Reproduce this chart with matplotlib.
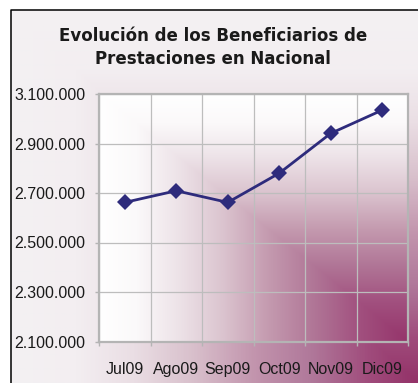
import numpy as np
import matplotlib
matplotlib.use("Agg")
import matplotlib.pyplot as plt
from matplotlib.colors import LinearSegmentedColormap
from matplotlib.lines import Line2D
from matplotlib.ticker import FixedLocator, FuncFormatter

# --- data -------------------------------------------------------------
months = ["Jul09", "Ago09", "Sep09", "Oct09", "Nov09", "Dic09"]
beneficiarios = [2662000, 2709000, 2662000, 2780000, 2941000, 3035000]
y_ticks = [2100000, 2300000, 2500000, 2700000, 2900000, 3100000]
title = "Evolución de los Beneficiarios de\nPrestaciones en Nacional"

W, H, DPI = 418, 383, 100
fig = plt.figure(figsize=(W / DPI, H / DPI), dpi=DPI, facecolor="white")


def corner_gradient(stops, n=400):
    """Rectangular gradient fading out from the lower-right corner."""
    cmap = LinearSegmentedColormap.from_list("g", stops)
    u = np.linspace(0, 1, n)
    xx, yy = np.meshgrid(u, u)          # row 0 is the top of the image
    d = np.maximum(1 - xx, 1 - yy)      # distance from bottom-right corner
    return cmap(d)


# chart area background with its frame (left and top edges visible)
x0, ytop = 11 / W, 1 - 10 / H
bg = fig.add_axes([x0, 0, 1 - x0, ytop], zorder=0)
bg.axis("off")
fig_stops = [(0.0, "#933268"), (0.12, "#a04c7c"), (0.26, "#b0789a"),
             (0.40, "#c294ad"), (0.55, "#d8bfcb"), (0.70, "#eadee4"),
             (0.84, "#f3eef1"), (1.0, "#f3f1f3")]
bg.imshow(corner_gradient(fig_stops), extent=[0, 1, 0, 1], aspect="auto",
          interpolation="bilinear")
bg.set_xlim(0, 1)
bg.set_ylim(0, 1)
fig.add_artist(Line2D([x0, x0, 1.0], [0, ytop, ytop], transform=fig.transFigure,
                      color="black", lw=1.1, zorder=5))

# plot area
ax = fig.add_axes([99 / W, 1 - 341.5 / H, 309 / W, 247.5 / H], zorder=1)
ax.set_facecolor("none")
plot_stops = [(0.0, "#95356b"), (0.15, "#a14f7e"), (0.30, "#b07596"),
              (0.45, "#c49aaf"), (0.60, "#dbc4cf"), (0.75, "#eee4e9"),
              (0.88, "#fbf9fa"), (1.0, "#ffffff")]
ax.imshow(corner_gradient(plot_stops), extent=[0, 1, 0, 1], aspect="auto",
          transform=ax.transAxes, interpolation="bilinear", zorder=0)

x = np.arange(len(months))
ax.plot(x, beneficiarios, color="#2e2b7c", lw=2.0, marker="D", ms=8,
        mec="#2e2b7c", mew=0, zorder=4, clip_on=False)

ax.set_xlim(-0.5, len(months) - 0.5)
ax.set_ylim(y_ticks[0], y_ticks[-1])

grid_col = "#bdbdbd"
ax.yaxis.set_major_locator(FixedLocator(y_ticks))
ax.yaxis.set_major_formatter(FuncFormatter(lambda v, _: f"{v:,.0f}".replace(",", ".")))
ax.set_xticks(x)
ax.set_xticklabels(months)
ax.xaxis.set_minor_locator(FixedLocator(np.arange(len(months) + 1) - 0.5))

ax.grid(True, axis="y", which="major", color=grid_col, lw=0.9, zorder=1)
ax.grid(True, axis="x", which="minor", color=grid_col, lw=0.9, zorder=1)
ax.set_axisbelow(True)

for s in ax.spines.values():
    s.set_color("#b4b4b4")
    s.set_linewidth(1.6)

lab_font = dict(family=["Liberation Sans", "DejaVu Sans"], size=11.5)
ax.tick_params(axis="y", which="major", length=3, width=1, color="#b4b4b4",
               pad=7, labelcolor="#1a1a1a")
ax.tick_params(axis="x", which="major", length=0, pad=15, labelcolor="#1a1a1a")
ax.tick_params(axis="x", which="minor", length=3, width=1, color="#b4b4b4")
for lab in ax.get_yticklabels() + ax.get_xticklabels():
    lab.set_fontfamily(lab_font["family"])
    lab.set_fontsize(lab_font["size"])

fig.text(0.51, 1 - 47.5 / H, title, ha="center", va="center",
         family="DejaVu Sans", weight="bold", size=12, color="#1a1a1a",
         linespacing=1.3)

fig.savefig("out.png", dpi=DPI, facecolor="white")
